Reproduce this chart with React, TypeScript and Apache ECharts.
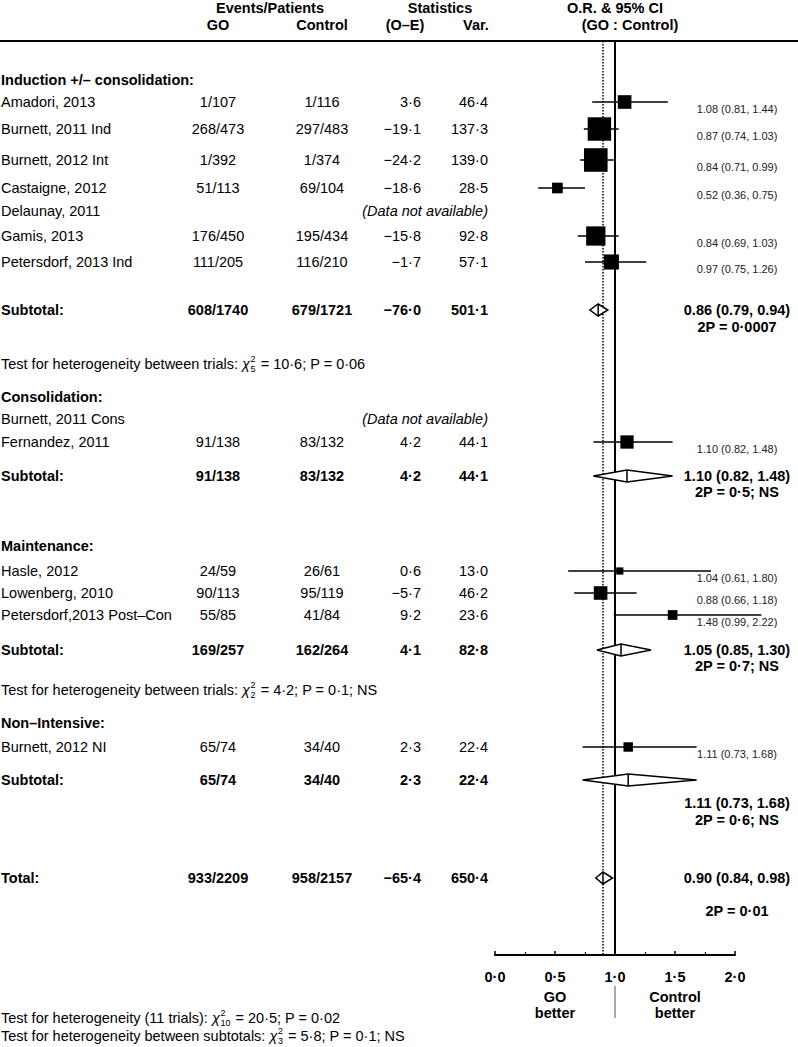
import React, { useEffect, useRef } from "react";
import * as echarts from "echarts";

// ---------- DATA ----------
const GROUP_TITLES = ["Induction +/– consolidation:", "Consolidation:", "Maintenance:", "Non–Intensive:"];

const STUDY_NAMES = [
  "Amadori, 2013", "Burnett, 2011 Ind", "Burnett, 2012 Int", "Castaigne, 2012", "Delaunay, 2011",
  "Gamis, 2013", "Petersdorf, 2013 Ind", "Burnett, 2011 Cons", "Fernandez, 2011",
  "Hasle, 2012", "Lowenberg, 2010", "Petersdorf,2013 Post–Con", "Burnett, 2012 NI",
];
const GO_EP = ["1/107", "268/473", "1/392", "51/113", null, "176/450", "111/205", null, "91/138", "24/59", "90/113", "55/85", "65/74"];
const CTRL_EP = ["1/116", "297/483", "1/374", "69/104", null, "195/434", "116/210", null, "83/132", "26/61", "95/119", "41/84", "34/40"];
const OE = [3.6, -19.1, -24.2, -18.6, null, -15.8, -1.7, null, 4.2, 0.6, -5.7, 9.2, 2.3];
const VAR = [46.4, 137.3, 139.0, 28.5, null, 92.8, 57.1, null, 44.1, 13.0, 46.2, 23.6, 22.4];
const OR = [1.08, 0.87, 0.84, 0.52, null, 0.84, 0.97, null, 1.10, 1.04, 0.88, 1.48, 1.11];
const LO = [0.81, 0.74, 0.71, 0.36, null, 0.69, 0.75, null, 0.82, 0.61, 0.66, 0.99, 0.73];
const HI = [1.44, 1.03, 0.99, 0.75, null, 1.03, 1.26, null, 1.48, 1.80, 1.18, 2.22, 1.68];

const SUB_GO = ["608/1740", "91/138", "169/257", "65/74"];
const SUB_CTRL = ["679/1721", "83/132", "162/264", "34/40"];
const SUB_OE = [-76.0, 4.2, 4.1, 2.3];
const SUB_VAR = [501.1, 44.1, 82.8, 22.4];
const SUB_OR = [0.86, 1.10, 1.05, 1.11];
const SUB_LO = [0.79, 0.82, 0.85, 0.73];
const SUB_HI = [0.94, 1.48, 1.30, 1.68];
const SUB_P = ["2P = 0·0007", "2P = 0·5; NS", "2P = 0·7; NS", "2P = 0·6; NS"];

const TOTAL = { go: "933/2209", ctrl: "958/2157", oe: -65.4, v: 650.4, or: 0.90, lo: 0.84, hi: 0.98, p: "2P = 0·01" };

const HET_TEXT = ["Test for heterogeneity between trials: ", "Test for heterogeneity between trials: "];
const HET_DF = ["5", "2"];
const HET_REST = [" = 10·6; P = 0·06", " = 4·2; P = 0·1; NS"];
const FOOT_TEXT = ["Test for heterogeneity (11 trials): ", "Test for heterogeneity between subtotals: "];
const FOOT_DF = ["10", "3"];
const FOOT_REST = [" = 20·5; P = 0·02", " = 5·8; P = 0·1; NS"];

const X_TICKS = [0, 0.5, 1, 1.5, 2];

// ---------- LAYOUT (positions only) ----------
const GROUP_Y = [80, 397, 546, 723];
const STUDY_Y = [102, 129, 160, 188, 211, 236, 262, 419, 442, 571, 593, 615, 747];
const SUB_Y = [310, 476, 650, 780];
const SUB_LABEL_DY = [[0, 17], [0, 16], [0, 16], [23, 40]];
const HET_Y = [364, 690];
const TOTAL_Y = 878;
const TOTAL_LABEL_DY = [0, 33];
const FOOT_Y = [1018, 1036];
const TOP_LINE_Y = 41;
const AXIS_Y = 955;

const FONT = "'Liberation Sans', Arial, Helvetica, sans-serif";
const FS = 14.5;
const COL = { name: 1, go: 218, ctrl: 322, oe: 421, v: 488, or: 737 };

const fmt1 = (v: number) => (v < 0 ? "−" : "") + Math.abs(v).toFixed(1).replace(".", "·");
const fmtOR = (o: number, l: number, h: number) => `${o.toFixed(2)} (${l.toFixed(2)}, ${h.toFixed(2)})`;

let measureCtx: CanvasRenderingContext2D | null = null;
function textW(t: string, size: number, weight = "normal") {
  if (!measureCtx) measureCtx = document.createElement("canvas").getContext("2d");
  measureCtx!.font = `${weight} ${size}px ${FONT}`;
  return measureCtx!.measureText(t).width;
}

export default function App() {
  const ref = useRef<HTMLDivElement>(null);
  useEffect(() => {
    const chart = echarts.init(ref.current!, undefined, { renderer: "svg" });

    const studyData: number[][] = [];
    OR.forEach((o, i) => {
      if (o != null) studyData.push([o, LO[i] as number, HI[i] as number, STUDY_Y[i], VAR[i] as number]);
    });
    const diamondData: number[][] = SUB_OR.map((o, i) => [o, SUB_LO[i], SUB_HI[i], SUB_Y[i]]);
    diamondData.push([TOTAL.or, TOTAL.lo, TOTAL.hi, TOTAL_Y]);

    chart.setOption({
      animation: false,
      grid: { left: 495, width: 240, top: 0, height: AXIS_Y },
      xAxis: {
        type: "value", min: 0, max: 2, interval: 0.5, position: "bottom",
        axisLine: { onZero: false, lineStyle: { color: "#000", width: 2 } },
        axisTick: { inside: true, length: 4, lineStyle: { color: "#000", width: 1.5 } },
        minorTick: { show: true, splitNumber: 2, length: 3, lineStyle: { color: "#000", width: 1.2 } },
        splitLine: { show: false },
        axisLabel: {
          margin: 14, color: "#000", fontWeight: "bold", fontSize: 14.5, fontFamily: FONT,
          formatter: (v: number) => (X_TICKS.includes(v) ? v.toFixed(1).replace(".", "·") : ""),
        },
      },
      yAxis: { type: "value", min: 0, max: AXIS_Y, inverse: true, show: false },
      series: [
        {
          type: "custom",
          data: [[1.0, TOP_LINE_Y, AXIS_Y, 0], [TOTAL.or, TOP_LINE_Y, AXIS_Y, 1]],
          clip: false,
          renderItem: (p: any, api: any) => {
            const a = api.coord([api.value(0), api.value(1)]);
            const b = api.coord([api.value(0), api.value(2)]);
            const dotted = api.value(3) === 1;
            return {
              type: "line",
              shape: { x1: a[0], y1: a[1], x2: b[0], y2: b[1] },
              style: dotted
                ? { stroke: "#000", lineWidth: 1.5, lineDash: [1.5, 1.5] }
                : { stroke: "#000", lineWidth: 2 },
            };
          },
        },
        {
          type: "custom",
          data: studyData,
          clip: false,
          renderItem: (p: any, api: any) => {
            const y = api.value(3);
            const lo = api.coord([api.value(1), y]);
            const hi = api.coord([api.value(2), y]);
            const c = api.coord([api.value(0), y]);
            const s = 2 * Math.sqrt(api.value(4));
            return {
              type: "group",
              children: [
                { type: "line", shape: { x1: lo[0], y1: lo[1], x2: hi[0], y2: hi[1] }, style: { stroke: "#000", lineWidth: 1.5 } },
                { type: "rect", shape: { x: c[0] - s / 2, y: c[1] - s / 2, width: s, height: s }, style: { fill: "#000" } },
              ],
            };
          },
        },
        {
          type: "custom",
          data: diamondData,
          clip: false,
          renderItem: (p: any, api: any) => {
            const y = api.value(3);
            const lo = api.coord([api.value(1), y]);
            const hi = api.coord([api.value(2), y]);
            const c = api.coord([api.value(0), y]);
            const h = 6;
            return {
              type: "group",
              children: [
                {
                  type: "polygon",
                  shape: { points: [[lo[0], lo[1]], [c[0], c[1] - h], [hi[0], hi[1]], [c[0], c[1] + h]] },
                  style: { fill: "#fff", stroke: "#000", lineWidth: 1.5 },
                },
                { type: "line", shape: { x1: c[0], y1: c[1] - h, x2: c[0], y2: c[1] + h }, style: { stroke: "#000", lineWidth: 1.5 } },
              ],
            };
          },
        },
      ],
    });

    const py = (v: number) => chart.convertToPixel({ yAxisIndex: 0 }, v) as number;
    const px = (v: number) => chart.convertToPixel({ xAxisIndex: 0 }, v) as number;

    const g: any[] = [];
    const txt = (text: string, x: number, y: number, opts: any = {}) => {
      const size = opts.size ?? FS;
      const weight = opts.bold ? "bold" : "normal";
      const style = opts.italic ? "italic " : "";
      g.push({
        type: "text",
        x, y,
        silent: true,
        style: {
          text,
          font: `${style}${weight} ${size}px ${FONT}`,
          fill: opts.color ?? "#000",
          align: opts.align ?? "left",
          verticalAlign: "middle",
        },
      });
    };

    // header
    txt("Events/Patients", 270, 8, { bold: true, align: "center" });
    txt("GO", COL.go, 25, { bold: true, align: "center" });
    txt("Control", COL.ctrl, 25, { bold: true, align: "center" });
    txt("Statistics", 440, 8, { bold: true, align: "center" });
    txt("(O–E)", 405, 25, { bold: true, align: "center" });
    txt("Var.", 476, 25, { bold: true, align: "center" });
    txt("O.R. & 95% CI", 615, 8, { bold: true, align: "center" });
    txt("(GO : Control)", 630, 25, { bold: true, align: "center" });
    g.push({ type: "line", silent: true, shape: { x1: 0, y1: TOP_LINE_Y, x2: 798, y2: TOP_LINE_Y }, style: { stroke: "#000", lineWidth: 2 } });

    GROUP_TITLES.forEach((t, i) => txt(t, COL.name, py(GROUP_Y[i]), { bold: true }));

    STUDY_NAMES.forEach((n, i) => {
      const y = py(STUDY_Y[i]);
      txt(n, COL.name, y);
      if (OR[i] == null) {
        txt("(Data not available)", COL.v, y, { italic: true, align: "right" });
        return;
      }
      txt(GO_EP[i] as string, COL.go, y, { align: "center" });
      txt(CTRL_EP[i] as string, COL.ctrl, y, { align: "center" });
      txt(fmt1(OE[i] as number), COL.oe, y, { align: "right" });
      txt(fmt1(VAR[i] as number), COL.v, y, { align: "right" });
      txt(fmtOR(OR[i] as number, LO[i] as number, HI[i] as number), COL.or, y + 7, { size: 11, align: "center", color: "#222" });
    });

    SUB_OR.forEach((o, i) => {
      const y = py(SUB_Y[i]);
      txt("Subtotal:", COL.name, y, { bold: true });
      txt(SUB_GO[i], COL.go, y, { bold: true, align: "center" });
      txt(SUB_CTRL[i], COL.ctrl, y, { bold: true, align: "center" });
      txt(fmt1(SUB_OE[i]), COL.oe, y, { bold: true, align: "right" });
      txt(fmt1(SUB_VAR[i]), COL.v, y, { bold: true, align: "right" });
      txt(fmtOR(o, SUB_LO[i], SUB_HI[i]), COL.or, y + SUB_LABEL_DY[i][0], { bold: true, align: "center" });
      txt(SUB_P[i], COL.or, y + SUB_LABEL_DY[i][1], { bold: true, align: "center" });
    });

    const ty = py(TOTAL_Y);
    txt("Total:", COL.name, ty, { bold: true });
    txt(TOTAL.go, COL.go, ty, { bold: true, align: "center" });
    txt(TOTAL.ctrl, COL.ctrl, ty, { bold: true, align: "center" });
    txt(fmt1(TOTAL.oe), COL.oe, ty, { bold: true, align: "right" });
    txt(fmt1(TOTAL.v), COL.v, ty, { bold: true, align: "right" });
    txt(fmtOR(TOTAL.or, TOTAL.lo, TOTAL.hi), COL.or, ty + TOTAL_LABEL_DY[0], { bold: true, align: "center" });
    txt(TOTAL.p, COL.or, ty + TOTAL_LABEL_DY[1], { bold: true, align: "center" });

    const chiLine = (pre: string, df: string, rest: string, y: number) => {
      const x0 = COL.name;
      const w1 = textW(pre, FS);
      txt(pre, x0, y);
      txt("χ", x0 + w1, y, { italic: true });
      const wc = textW("χ", FS, "normal") + 1;
      txt("2", x0 + w1 + wc, y - 5, { size: 9 });
      txt(df, x0 + w1 + wc, y + 5, { size: 9 });
      const ws = Math.max(textW("2", 9), textW(df, 9)) + 1;
      txt(rest, x0 + w1 + wc + ws, y);
    };
    HET_Y.forEach((y, i) => chiLine(HET_TEXT[i], HET_DF[i], HET_REST[i], py(y)));
    FOOT_Y.forEach((y, i) => chiLine(FOOT_TEXT[i], FOOT_DF[i], FOOT_REST[i], y));

    // better labels
    const x1 = px(1);
    txt("GO", px(0.5), 997, { bold: true, align: "center" });
    txt("better", px(0.5), 1013, { bold: true, align: "center" });
    txt("Control", px(1.5), 997, { bold: true, align: "center" });
    txt("better", px(1.5), 1013, { bold: true, align: "center" });
    g.push({ type: "line", silent: true, shape: { x1, y1: 986, x2: x1, y2: 1018 }, style: { stroke: "#555", lineWidth: 1 } });

    chart.setOption({ graphic: g });

    return () => chart.dispose();
  }, []);

  return <div ref={ref} style={{ position: "absolute", left: 0, top: 0, width: 798, height: 1047 }} />;
}
